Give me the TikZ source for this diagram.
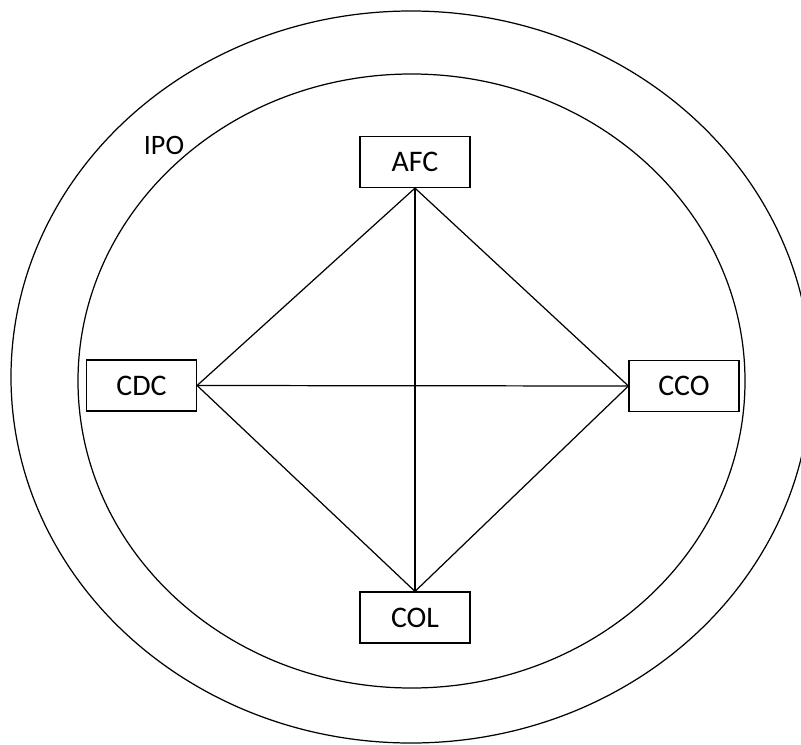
\documentclass[tikz,border=0pt]{standalone}
\usepackage{fontspec}
\setmainfont{Carlito}
\usepackage{tikz}

\begin{document}
\begin{tikzpicture}[x=0.02cm, y=-0.02cm, line width=0.7pt,
    unit/.style={draw, minimum width=2.2cm, minimum height=1.02cm, inner sep=0pt, font=\fontsize{17}{20}\selectfont}]
    \useasboundingbox (0,0) rectangle (801,744);
    \clip (0,0) rectangle (801,744);
    \draw (411,377) ellipse [x radius=400, y radius=366];
    \draw (411.5,381) ellipse [x radius=333.5, y radius=307];
    \node[font=\fontsize{16}{19}\selectfont] (ipo) at (164,145) {IPO};
    \node[unit] (afc) at (415,162) {AFC};
    \node[unit] (cdc) at (141.5,385.5) {CDC};
    \node[unit] (cco) at (684,386) {CCO};
    \node[unit] (col) at (415,617.5) {COL};
    \draw (afc.south) -- (cdc.east);
    \draw (afc.south) -- (cco.west);
    \draw (afc.south) -- (col.north);
    \draw (cdc.east) -- (cco.west);
    \draw (cdc.east) -- (col.north);
    \draw (cco.west) -- (col.north);
\end{tikzpicture}
\end{document}
